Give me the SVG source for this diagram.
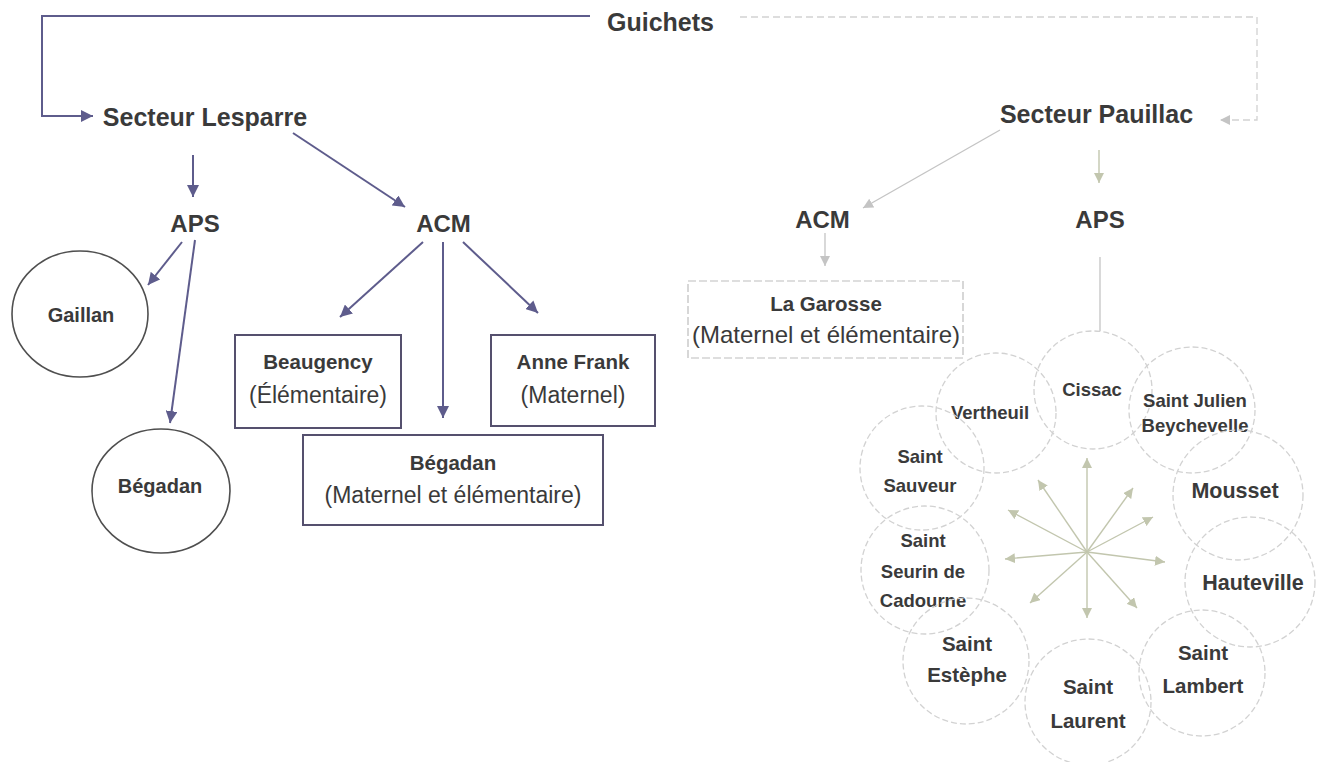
<svg xmlns="http://www.w3.org/2000/svg" width="1318" height="762" viewBox="0 0 1318 762">
<style>
.t{font-family:"Liberation Sans",Arial,sans-serif;fill:#3a3a3a;text-anchor:middle}
.b{font-weight:bold}
.h{font-size:25px;font-weight:bold}
.n{font-size:23px}
.bx{font-size:20.5px;font-weight:bold}
.c1{font-size:18.5px;font-weight:bold}
.c2{font-size:20.5px;font-weight:bold}
.c3{font-size:21.5px;font-weight:bold}
.pl{fill:none;stroke:#5e5c8c;stroke-width:2}
.pbox{fill:#fff;stroke:#55506e;stroke-width:2}
.pcirc{fill:#fff;stroke:#4f4f4f;stroke-width:1.6}
.gl{fill:none;stroke:#c4c4c4;stroke-width:1.3}
.gd{fill:none;stroke:#d2d2d2;stroke-width:1.3;stroke-dasharray:7 4}
.gbox{fill:#fff;stroke:#bdbdbd;stroke-width:1.2;stroke-dasharray:8 3}
.gcirc{fill:none;stroke:#d2d2d2;stroke-width:1.3;stroke-dasharray:6 3}
.st{fill:none;stroke:#c2c6ae;stroke-width:1.4}
</style>
<defs>
<marker id="ap" markerUnits="userSpaceOnUse" markerWidth="14" markerHeight="12" refX="12" refY="6" orient="auto">
<path d="M0,0 L12,6 L0,12 Z" fill="#5e5c8c"/>
</marker>
<marker id="ag" markerUnits="userSpaceOnUse" markerWidth="12" markerHeight="10" refX="10" refY="5" orient="auto">
<path d="M0,0 L10,5 L0,10 Z" fill="#c4c4c4"/>
</marker>
<marker id="as" markerUnits="userSpaceOnUse" markerWidth="12" markerHeight="10" refX="10" refY="5" orient="auto">
<path d="M0,0 L10,5 L0,10 Z" fill="#c2c6ae"/>
</marker>
</defs>

<g id="connectors">
<path class="pl" d="M590,16 H42 V116 H93" marker-end="url(#ap)"/>
<path class="gd" d="M740,17 H1257 V120 H1220" marker-end="url(#ag)"/>
<line class="pl" x1="193" y1="155" x2="193" y2="197" marker-end="url(#ap)"/>
<line class="pl" x1="293" y1="133" x2="405" y2="207" marker-end="url(#ap)"/>
<line class="pl" x1="182" y1="242" x2="148" y2="285" marker-end="url(#ap)"/>
<line class="pl" x1="195" y1="240" x2="170" y2="423" marker-end="url(#ap)"/>
<line class="pl" x1="423" y1="242" x2="340" y2="317" marker-end="url(#ap)"/>
<line class="pl" x1="443" y1="242" x2="443" y2="418" marker-end="url(#ap)"/>
<line class="pl" x1="463" y1="242" x2="538" y2="313" marker-end="url(#ap)"/>
<line class="gl" x1="1000" y1="130" x2="863" y2="208" marker-end="url(#ag)"/>
<line class="st" x1="1099" y1="150" x2="1099" y2="183" marker-end="url(#as)"/>
<line class="gl" x1="825" y1="233" x2="825" y2="266" marker-end="url(#ag)"/>
<line class="gl" x1="1100" y1="257" x2="1100" y2="331"/>
</g>

<g id="guichets"><text class="t h" x="660.5" y="31">Guichets</text></g>
<g id="secteur-lesparre"><text class="t h" x="205" y="126">Secteur Lesparre</text></g>
<g id="secteur-pauillac"><text class="t h" x="1096.5" y="123">Secteur Pauillac</text></g>
<g id="aps-lesparre"><text class="t h" x="195" y="232" style="font-size:24px">APS</text></g>
<g id="acm-lesparre"><text class="t h" x="443.5" y="232" style="font-size:24px">ACM</text></g>
<g id="acm-pauillac"><text class="t h" x="822.5" y="228" style="font-size:24px">ACM</text></g>
<g id="aps-pauillac"><text class="t h" x="1100" y="228" style="font-size:24px">APS</text></g>

<g id="gaillan">
<ellipse class="pcirc" cx="80" cy="314" rx="68" ry="63"/>
<text class="t b" x="81" y="322" style="font-size:20px">Gaillan</text>
</g>
<g id="begadan-aps">
<ellipse class="pcirc" cx="161" cy="491" rx="69" ry="62"/>
<text class="t b" x="160" y="493" style="font-size:20px">Bégadan</text>
</g>

<g id="beaugency">
<rect class="pbox" x="235" y="335" width="166" height="93"/>
<text class="t bx" x="318" y="369">Beaugency</text>
<text class="t n" x="318" y="403">(Élémentaire)</text>
</g>
<g id="anne-frank">
<rect class="pbox" x="491" y="335" width="164" height="91"/>
<text class="t bx" x="573" y="369">Anne Frank</text>
<text class="t n" x="573" y="403">(Maternel)</text>
</g>
<g id="begadan-acm">
<rect class="pbox" x="303" y="435" width="300" height="90"/>
<text class="t bx" x="453" y="470">Bégadan</text>
<text class="t n" x="453" y="503">(Maternel et élémentaire)</text>
</g>

<g id="la-garosse">
<rect class="gbox" x="688" y="281" width="275" height="77"/>
<text class="t bx" x="826" y="311">La Garosse</text>
<text class="t n" x="826" y="343" style="font-size:24px">(Maternel et élémentaire)</text>
</g>

<g id="cissac"><circle class="gcirc" cx="1093" cy="390" r="59"/><text class="t c1" x="1092" y="396">Cissac</text></g>
<g id="vertheuil"><circle class="gcirc" cx="996" cy="413" r="60"/><text class="t c1" x="990" y="419">Vertheuil</text></g>
<g id="saint-julien"><circle class="gcirc" cx="1192" cy="410" r="63"/><text class="t c1" x="1195" y="407">Saint Julien</text><text class="t c1" x="1195" y="432">Beychevelle</text></g>
<g id="saint-sauveur"><circle class="gcirc" cx="922" cy="468" r="62"/><text class="t c1" x="920" y="463">Saint</text><text class="t c1" x="920" y="492">Sauveur</text></g>
<g id="mousset"><circle class="gcirc" cx="1238" cy="495" r="65"/><text class="t c3" x="1235" y="498">Mousset</text></g>
<g id="saint-seurin"><circle class="gcirc" cx="925" cy="570" r="64"/><text class="t c1" x="923" y="547">Saint</text><text class="t c1" x="923" y="578">Seurin de</text><text class="t c1" x="923" y="607">Cadourne</text></g>
<g id="hauteville"><circle class="gcirc" cx="1250" cy="582" r="65"/><text class="t c3" x="1253" y="590">Hauteville</text></g>
<g id="saint-estephe"><circle class="gcirc" cx="966" cy="661" r="63"/><text class="t c2" x="967" y="651">Saint</text><text class="t c2" x="967" y="682">Estèphe</text></g>
<g id="saint-lambert"><circle class="gcirc" cx="1202" cy="673" r="63"/><text class="t c2" x="1203" y="660">Saint</text><text class="t c2" x="1203" y="693">Lambert</text></g>
<g id="saint-laurent"><circle class="gcirc" cx="1088" cy="702" r="63"/><text class="t c2" x="1088" y="694">Saint</text><text class="t c2" x="1088" y="728">Laurent</text></g>

<g id="star-connectors">
<line class="st" x1="1087" y1="552" x2="1087" y2="458" marker-end="url(#as)"/>
<line class="st" x1="1087" y1="552" x2="1038" y2="480" marker-end="url(#as)"/>
<line class="st" x1="1087" y1="552" x2="1008" y2="510" marker-end="url(#as)"/>
<line class="st" x1="1087" y1="552" x2="1005" y2="559" marker-end="url(#as)"/>
<line class="st" x1="1087" y1="552" x2="1030" y2="603" marker-end="url(#as)"/>
<line class="st" x1="1087" y1="552" x2="1087" y2="618" marker-end="url(#as)"/>
<line class="st" x1="1087" y1="552" x2="1137" y2="608" marker-end="url(#as)"/>
<line class="st" x1="1087" y1="552" x2="1165" y2="562" marker-end="url(#as)"/>
<line class="st" x1="1087" y1="552" x2="1153" y2="517" marker-end="url(#as)"/>
<line class="st" x1="1087" y1="552" x2="1133" y2="488" marker-end="url(#as)"/>
</g>
</svg>
